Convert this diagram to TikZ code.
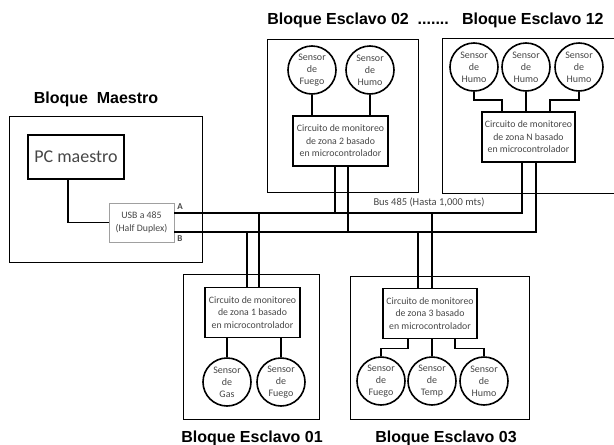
\documentclass[tikz,border=0pt]{standalone}
\usepackage{fontspec}
\setmainfont{Liberation Sans}
\newfontfamily\cajafont{Carlito}
\usetikzlibrary{positioning}
\definecolor{textogris}{RGB}{70, 70, 70}
\definecolor{bordegris}{RGB}{160, 160, 160}
\tikzset{
    bloque/.style={draw=black, line width=0.9pt, inner sep=0pt},
    circuito/.style={draw=black, line width=1.6pt, minimum width=95pt, minimum height=50pt,
                     inner sep=0pt, align=center, text=textogris,
                     font=\cajafont\fontsize{9.8}{12.5}\selectfont},
    sensor/.style={draw=black, circle, line width=1.6pt, minimum size=48pt, inner sep=0pt,
                   align=center, text=textogris, font=\cajafont\fontsize{10}{12}\selectfont},
    bus/.style={line width=1.6pt},
    enlace/.style={line width=1.6pt},
    titulo/.style={font=\bfseries\fontsize{16}{18}\selectfont},
    etiqueta/.style={text=textogris, font=\cajafont\fontsize{10.5}{12}\selectfont}
}

\begin{document}
\begin{tikzpicture}[x=1pt, y=-1pt]
    \useasboundingbox (0,0) rectangle (614,445);

    % bloque maestro
    \node[bloque, minimum width=193pt, minimum height=146pt] (maestro) at (105.5,189) {};
    \node[titulo] (tmaestro) at (96,99) {Bloque\ \ Maestro};
    \node[draw=black, line width=1.2pt, minimum width=96pt, minimum height=44pt,
          font=\cajafont\fontsize{18}{20}\selectfont, text=textogris] (pc) at (76,157) {PC maestro};
    \node[draw=bordegris, line width=0.9pt, minimum width=65pt, minimum height=39pt, inner sep=0pt,
          align=center, text=textogris, font=\cajafont\fontsize{9.8}{13}\selectfont] (usb) at (141.5,222.5)
          {USB a 485\\(Half Duplex)};
    \coordinate (puntoA) at ([yshift=9.5pt]usb.east);
    \coordinate (puntoB) at ([yshift=-9.5pt]usb.east);
    \node[etiqueta, font=\cajafont\bfseries\fontsize{9}{10}\selectfont] (la) at (180,207) {A};
    \node[etiqueta, font=\cajafont\bfseries\fontsize{9}{10}\selectfont] (lb) at (180,239) {B};
    \draw[enlace] ([xshift=-8pt]pc.south) |- (usb.west);

    % esclavos de arriba
    \node[bloque, minimum width=151pt, minimum height=153pt] (e2) at (342.5,115.5) {};
    \node[bloque, minimum width=178pt, minimum height=155pt] (e12) at (531,115.5) {};
    \node[titulo] (tarriba) at (435.5,20) {Bloque Esclavo 02\ \ .......\ \ \ Bloque Esclavo 12};

    \node[circuito] (c2) at (340.5,141) {Circuito de monitoreo\\de zona 2 basado\\en microcontrolador};
    \node[sensor] (s2a) at (312,70) {Sensor\\de\\Fuego};
    \node[sensor] (s2b) at (370,70) {Sensor\\de\\Humo};
    \draw[enlace] (s2a.south) -- (s2a.south |- c2.north);
    \draw[enlace] (s2b.south) -- (s2b.south |- c2.north);

    \node[circuito, minimum width=93pt] (c12) at (528.5,137) {Circuito de monitoreo\\de zona N basado\\en microcontrolador};
    \node[sensor] (s12a) at (474,67) {Sensor\\de\\Humo};
    \node[sensor] (s12b) at (526,67) {Sensor\\de\\Humo};
    \node[sensor] (s12c) at (579,67) {Sensor\\de\\Humo};
    \draw[enlace] (s12a.south) -- ++(0,8) -| ([xshift=-26.5pt]c12.north);
    \draw[enlace] (s12b.south) -- (s12b.south |- c12.north);
    \draw[enlace] (s12c.south) -- ++(0,8) -| ([xshift=21.5pt]c12.north);

    % esclavos de abajo
    \node[bloque, minimum width=136pt, minimum height=145pt] (e1) at (251,346.5) {};
    \node[bloque, minimum width=179pt, minimum height=143pt] (e3) at (439.5,347.5) {};
    \node[titulo] (te1) at (252,438) {Bloque Esclavo 01};
    \node[titulo] (te3) at (446,438) {Bloque Esclavo 03};

    \node[circuito] (c1) at (252.5,312.5) {Circuito de monitoreo\\de zona 1 basado\\en microcontrolador};
    \node[sensor] (s1a) at (227,382) {Sensor\\de\\Gas};
    \node[sensor] (s1b) at (281,382) {Sensor\\de\\Fuego};
    \draw[enlace] (c1.south -| s1a) -- (s1a.north);
    \draw[enlace] (c1.south -| s1b) -- (s1b.north);

    \node[circuito, minimum width=94pt] (c3) at (430,313.5) {Circuito de monitoreo\\de zona 3 basado\\en microcontrolador};
    \node[sensor] (s3a) at (381,381) {Sensor\\de\\Fuego};
    \node[sensor] (s3b) at (432,381) {Sensor\\de\\Temp};
    \node[sensor] (s3c) at (484,381) {Sensor\\de\\Humo};
    \draw[enlace] ([xshift=-22pt]c3.south) -- ++(0,9) -| (s3a.north);
    \draw[enlace] (c3.south -| s3b) -- (s3b.north);
    \draw[enlace] ([xshift=25pt]c3.south) -- ++(0,9) -| (s3c.north);

    % bus 485
    \coordinate (t2a) at ([xshift=-5.5pt]c2.south);
    \coordinate (t2b) at ([xshift=7.5pt]c2.south);
    \coordinate (t1a) at ([xshift=6.5pt]c1.north);
    \coordinate (t1b) at ([xshift=-5.5pt]c1.north);
    \coordinate (t3a) at ([xshift=2pt]c3.north);
    \coordinate (t3b) at ([xshift=-12pt]c3.north);
    \draw[bus] (puntoA) -| ([xshift=-6.5pt]c12.south);
    \draw[bus] (puntoB) -| ([xshift=7.5pt]c12.south);
    \draw[bus] (t2a) -- (t2a |- puntoA);
    \draw[bus] (t2b) -- (t2b |- puntoB);
    \draw[bus] (t1a) -- (t1a |- puntoA);
    \draw[bus] (t1b) -- (t1b |- puntoB);
    \draw[bus] (t3a) -- (t3a |- puntoA);
    \draw[bus] (t3b) -- (t3b |- puntoB);
    \node[etiqueta] (lbus) at (429,202) {Bus 485 (Hasta 1,000 mts)};
\end{tikzpicture}
\end{document}
